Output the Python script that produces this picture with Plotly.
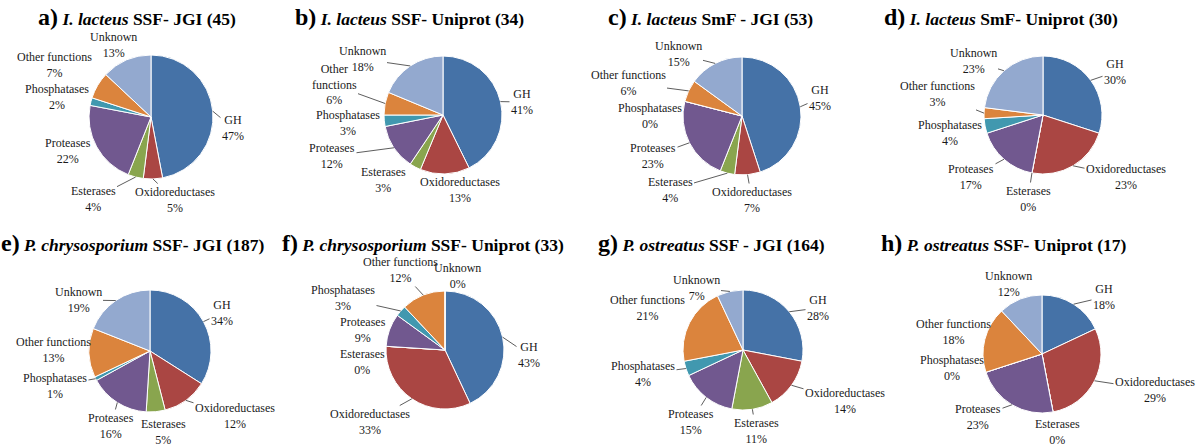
import math
import plotly.graph_objects as go

categories = ["GH", "Oxidoreductases", "Esterases", "Proteases",
              "Phosphatases", "Other functions", "Unknown"]
colors = ["#4572A7", "#AA4643", "#89A54E", "#71588F", "#4198AF", "#DB843D", "#93A9CF"]

a_vals = [47, 5, 4, 22, 2, 7, 13]
b_vals = [41, 13, 3, 12, 3, 6, 18]
c_vals = [45, 7, 4, 23, 0, 6, 15]
d_vals = [30, 23, 0, 17, 4, 3, 23]
e_vals = [34, 12, 5, 16, 1, 13, 19]
f_vals = [43, 33, 0, 9, 3, 12, 0]
g_vals = [28, 14, 11, 15, 4, 21, 7]
h_vals = [18, 29, 0, 23, 0, 18, 12]

panel_letters = ["a)", "b)", "c)", "d)", "e)", "f)", "g)", "h)"]
species = ["I. lacteus", "I. lacteus", "I. lacteus", "I. lacteus",
           "P. chrysosporium", "P. chrysosporium", "P. ostreatus", "P. ostreatus"]
suffixes = ["SSF- JGI (45)", "SSF- Uniprot (34)", "SmF - JGI (53)", "SmF- Uniprot (30)",
            "SSF- JGI (187)", "SSF- Uniprot (33)", "SSF - JGI (164)", "SSF- Uniprot (17)"]
all_vals = [a_vals, b_vals, c_vals, d_vals, e_vals, f_vals, g_vals, h_vals]

# ---------------- layout (pixels) ----------------
W, H = 1200, 448
pies = [(151, 117, 62), (443, 115, 59), (742, 116, 59), (1043, 115, 59),
        (150, 351, 61), (445, 350, 59), (743, 350, 60), (1042, 354, 59)]
title_center = [(137, 17), (409, 17), (710, 17), (1001, 17),
                (133, 243), (423, 243), (711, 243), (1003, 243)]
# label centres, in category order
label_xy = [
    [(233, 128), (175, 200), (93, 199), (68, 151), (57, 97), (55, 65), (113, 45)],
    [(522, 102), (460, 190), (383, 180), (332, 156), (348, 123), (334, 85), (362, 59)],
    [(820, 98), (752, 200), (670, 190), (653, 156), (650, 116), (628, 83), (678, 54)],
    [(1115, 72), (1126, 177), (1028, 199), (971, 177), (950, 133), (937, 94), (973, 61)],
    [(222, 313), (235, 416), (163, 432), (111, 426), (55, 386), (53, 350), (78, 300)],
    [(529, 355), (370, 422), (362, 362), (363, 330), (343, 298), (400, 270), (457, 276)],
    [(818, 308), (845, 401), (756, 431), (691, 422), (643, 374), (647, 308), (696, 288)],
    [(1104, 297), (1155, 390), (1057, 432), (978, 417), (952, 368), (953, 332), (1008, 284)],
]
label_names = [list(categories) for _ in range(8)]
label_names[1][5] = "Other<br>functions"

FONT = "Liberation Serif, Times New Roman, serif"
LABEL_SIZE = 12

fig = go.Figure()
for i, vals in enumerate(all_vals):
    cx, cy, r = pies[i]
    fig.add_trace(go.Pie(
        labels=categories, values=vals, sort=False, direction="clockwise", rotation=0,
        marker=dict(colors=colors, line=dict(color="white", width=1)),
        textinfo="none", showlegend=False, hoverinfo="label+value",
        domain=dict(x=[(cx - r) / W, (cx + r) / W], y=[1 - (cy + r) / H, 1 - (cy - r) / H]),
    ))

    total = float(sum(vals))
    cum = 0.0
    for k, v in enumerate(vals):
        theta = 2 * math.pi * (cum + v / 2.0) / total
        cum += v
        ex = cx + r * math.sin(theta)
        ey = cy - r * math.cos(theta)
        lx, ly = label_xy[i][k]
        name = label_names[i][k]
        text = f"{name}<br>{v}%"
        lines = text.split("<br>")
        w = max(len(s) for s in lines) * 5.6
        h = len(lines) * 14
        nx = min(max(ex, lx - w / 2), lx + w / 2)
        ny = min(max(ey, ly - h / 2), ly + h / 2)
        dist = math.hypot(ex - nx, ey - ny)
        if dist > 7:
            fig.add_annotation(
                x=ex / W, y=1 - ey / H, xref="paper", yref="paper",
                ax=lx - ex, ay=ly - ey, axref="pixel", ayref="pixel",
                showarrow=True, arrowhead=0, arrowwidth=0.8, arrowcolor="#333",
                text=text, align="center",
                font=dict(family=FONT, size=LABEL_SIZE, color="#1a1a1a"),
            )
        else:
            fig.add_annotation(
                x=lx / W, y=1 - ly / H, xref="paper", yref="paper",
                xanchor="center", yanchor="middle", showarrow=False,
                text=text, align="center",
                font=dict(family=FONT, size=LABEL_SIZE, color="#1a1a1a"),
            )

    tx, ty = title_center[i]
    fig.add_annotation(
        x=tx / W, y=1 - ty / H, xref="paper", yref="paper", xanchor="center", yanchor="middle",
        showarrow=False,
        text=f"<b><span style='font-size:24px'>{panel_letters[i]}</span> <i>{species[i]}</i> {suffixes[i]}</b>",
        font=dict(family=FONT, size=17.5, color="black"),
    )

fig.update_layout(width=W, height=H, margin=dict(l=0, r=0, t=0, b=0),
                  paper_bgcolor="white", plot_bgcolor="white",
                  font=dict(family=FONT))
fig.write_html("out.html", config={"displayModeBar": False},
               post_script="document.body.style.margin='0';document.body.style.padding='0';")
